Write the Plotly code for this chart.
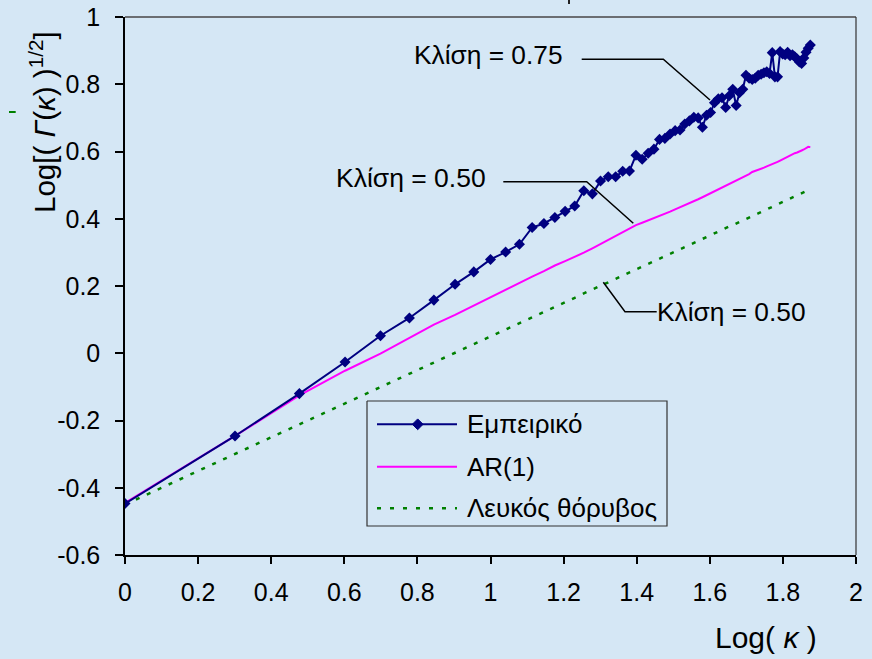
import numpy as np
import plotly.graph_objects as go

# ---------------- data ----------------
k = list(range(1, 76))

empirical = [-0.447, -0.246, -0.120, -0.026, 0.052, 0.105, 0.158, 0.205, 0.242, 0.279,
             0.301, 0.324, 0.374, 0.386, 0.404, 0.422, 0.438, 0.483, 0.474, 0.512,
             0.525, 0.525, 0.541, 0.542, 0.589, 0.577, 0.595, 0.607, 0.636, 0.639,
             0.652, 0.662, 0.664, 0.682, 0.691, 0.702, 0.700, 0.672, 0.708, 0.716,
             0.745, 0.757, 0.760, 0.731, 0.766, 0.785, 0.737, 0.775, 0.785, 0.827,
             0.818, 0.814, 0.818, 0.827, 0.830, 0.834, 0.837, 0.832, 0.894, 0.822,
             0.822, 0.897, 0.890, 0.888, 0.895, 0.885, 0.888, 0.882, 0.875, 0.866,
             0.862, 0.878, 0.895, 0.907, 0.917]

ar1 = [-0.445, -0.246, -0.125, -0.052, -0.001, 0.045, 0.085, 0.114, 0.142, 0.167,
       0.190, 0.210, 0.228, 0.244, 0.261, 0.274, 0.286, 0.299, 0.312, 0.325,
       0.337, 0.349, 0.360, 0.371, 0.381, 0.388, 0.395, 0.401, 0.407, 0.414,
       0.421, 0.428, 0.434, 0.440, 0.446, 0.452, 0.458, 0.464, 0.470, 0.476,
       0.482, 0.487, 0.492, 0.497, 0.503, 0.509, 0.513, 0.518, 0.522, 0.528,
       0.533, 0.539, 0.542, 0.545, 0.549, 0.552, 0.556, 0.559, 0.563, 0.567,
       0.569, 0.573, 0.577, 0.579, 0.584, 0.589, 0.591, 0.595, 0.597, 0.601,
       0.603, 0.606, 0.610, 0.614, 0.613]

white_noise = [-0.450, -0.300, -0.211, -0.149, -0.101, -0.061, -0.027, 0.002, 0.027, 0.050,
               0.071, 0.090, 0.107, 0.123, 0.138, 0.152, 0.165, 0.178, 0.189, 0.201,
               0.211, 0.221, 0.231, 0.240, 0.249, 0.257, 0.266, 0.274, 0.281, 0.289,
               0.296, 0.303, 0.309, 0.316, 0.322, 0.328, 0.334, 0.340, 0.346, 0.351,
               0.356, 0.362, 0.367, 0.372, 0.377, 0.381, 0.386, 0.391, 0.395, 0.399,
               0.404, 0.408, 0.412, 0.416, 0.420, 0.424, 0.428, 0.432, 0.435, 0.439,
               0.443, 0.446, 0.450, 0.453, 0.456, 0.460, 0.463, 0.466, 0.469, 0.473,
               0.476, 0.479, 0.482, 0.485, 0.488]

series_names = ["Εμπειρικό", "AR(1)", "Λευκός θόρυβος"]
slope_labels = ["Κλίση = 0.75", "Κλίση = 0.50", "Κλίση = 0.50"]

x_tickvals = [0, 0.2, 0.4, 0.6, 0.8, 1, 1.2, 1.4, 1.6, 1.8, 2]
x_ticktext = ["0", "0.2", "0.4", "0.6", "0.8", "1", "1.2", "1.4", "1.6", "1.8", "2"]
y_tickvals = [-0.6, -0.4, -0.2, 0, 0.2, 0.4, 0.6, 0.8, 1]
y_ticktext = ["-0.6", "-0.4", "-0.2", "0", "0.2", "0.4", "0.6", "0.8", "1"]

logk = np.log10(k)

# ---------------- styling ----------------
W, H = 872, 659
ML, MR, MT, MB = 125, 16, 17, 104
PW, PH = W - ML - MR, H - MT - MB
BG = "#D5E7F5"
FONT = "Liberation Sans, Arial, sans-serif"
NAVY = "#000080"
PINK = "#FF00FF"
GREEN = "#008000"


def px(xp):
    return (xp - ML) / PW


def py(yp):
    return (H - MB - yp) / PH


fig = go.Figure()
fig.add_trace(go.Scatter(x=logk, y=white_noise, mode="lines", name=series_names[2],
                         line=dict(color=GREEN, width=2.5, dash="4px,8px"), showlegend=False))
fig.add_trace(go.Scatter(x=logk, y=ar1, mode="lines", name=series_names[1],
                         line=dict(color=PINK, width=2), showlegend=False))
fig.add_trace(go.Scatter(x=logk, y=empirical, mode="lines+markers", name=series_names[0],
                         line=dict(color=NAVY, width=2),
                         marker=dict(symbol="diamond", size=8.5, color=NAVY), showlegend=False))

shapes = []


def seg(pts, color="black", width=1.5, dash=None):
    path = "M " + " L ".join(f"{px(a):.5f},{py(b):.5f}" for a, b in pts)
    d = dict(type="path", xref="paper", yref="paper", path=path,
             line=dict(color=color, width=width))
    if dash:
        d["line"]["dash"] = dash
    shapes.append(d)


# plot frame top / right
seg([(ML, MT), (W - MR, MT)], color="#6B6E72", width=2)
seg([(W - MR, MT), (W - MR, H - MB)], color="#333333", width=1.2)

# leader lines
seg([(581.7, 59.3), (663.3, 59.3), (710, 100)])
seg([(503.3, 181.7), (586.7, 181.7), (633.3, 223.3)])
seg([(603.3, 282.3), (625, 311.7), (656.7, 311.7)])

# manual legend
seg([(367, 401), (667, 401), (667, 526), (367, 526), (367, 401)], color="#333333", width=1.2)
seg([(377, 424.3), (457, 424.3)], color=NAVY, width=2)
d = 5.4
seg([(417.7 + d, 424.3), (417.7, 424.3 - d), (417.7 - d, 424.3), (417.7, 424.3 + d), (417.7 + d, 424.3)],
    color=NAVY, width=1)
shapes[-1]["fillcolor"] = NAVY
seg([(377, 466.7), (457, 466.7)], color=PINK, width=2)
seg([(377, 508.3), (457, 508.3)], color=GREEN, width=2.5, dash="4px,9px")

# small stray marks of the original
seg([(9, 112), (15.7, 112)], color=GREEN, width=2)
seg([(569, 0), (569, 4)], color="#222222", width=2)

annotations = []


def txt(text, xp, yp, size, xanchor="left", angle=0):
    annotations.append(dict(text=text, x=px(xp), y=py(yp), xref="paper", yref="paper",
                            xanchor=xanchor, yanchor="middle", showarrow=False,
                            textangle=angle, font=dict(family=FONT, size=size, color="black")))


txt(slope_labels[0], 565, 55, 26.3, "right")
txt(slope_labels[1], 488, 178, 26.5, "right")
txt(slope_labels[2], 655, 312, 26.3, "left")

txt(series_names[0], 465, 424.3, 26, "left")
txt(series_names[1], 465, 466.7, 26, "left")
txt(series_names[2], 465, 508.3, 26, "left")

txt("Log( <i>κ</i> )", 819, 637, 30, "right")
annotations.append(dict(text="Log[( <i>Γ</i>(<i>κ</i>) )<sup>1/2</sup>]", x=px(42), y=py(122),
                        xref="paper", yref="paper", xanchor="center", yanchor="middle",
                        showarrow=False, textangle=-90,
                        font=dict(family=FONT, size=29.5, color="black")))

fig.update_layout(
    width=W, height=H,
    margin=dict(l=ML, r=MR, t=MT, b=MB, autoexpand=False),
    paper_bgcolor=BG, plot_bgcolor=BG,
    font=dict(family=FONT, color="black"),
    shapes=shapes, annotations=annotations,
    showlegend=False,
)
fig.update_xaxes(range=[0, 2], tickvals=x_tickvals, ticktext=x_ticktext, automargin=False,
                 showgrid=False, zeroline=False, showline=True, linecolor="black", linewidth=1.5,
                 ticks="outside", ticklen=7, tickwidth=1.5, tickcolor="black",
                 tickfont=dict(family=FONT, size=25, color="black"), ticklabelstandoff=7)
fig.update_yaxes(range=[-0.6, 1], tickvals=y_tickvals, ticktext=y_ticktext, automargin=False,
                 showgrid=False, zeroline=False, showline=True, linecolor="black", linewidth=1.5,
                 ticks="outside", ticklen=8, tickwidth=1.5, tickcolor="black",
                 tickfont=dict(family=FONT, size=25, color="black"), ticklabelstandoff=10)

fig.write_html("out.html")
